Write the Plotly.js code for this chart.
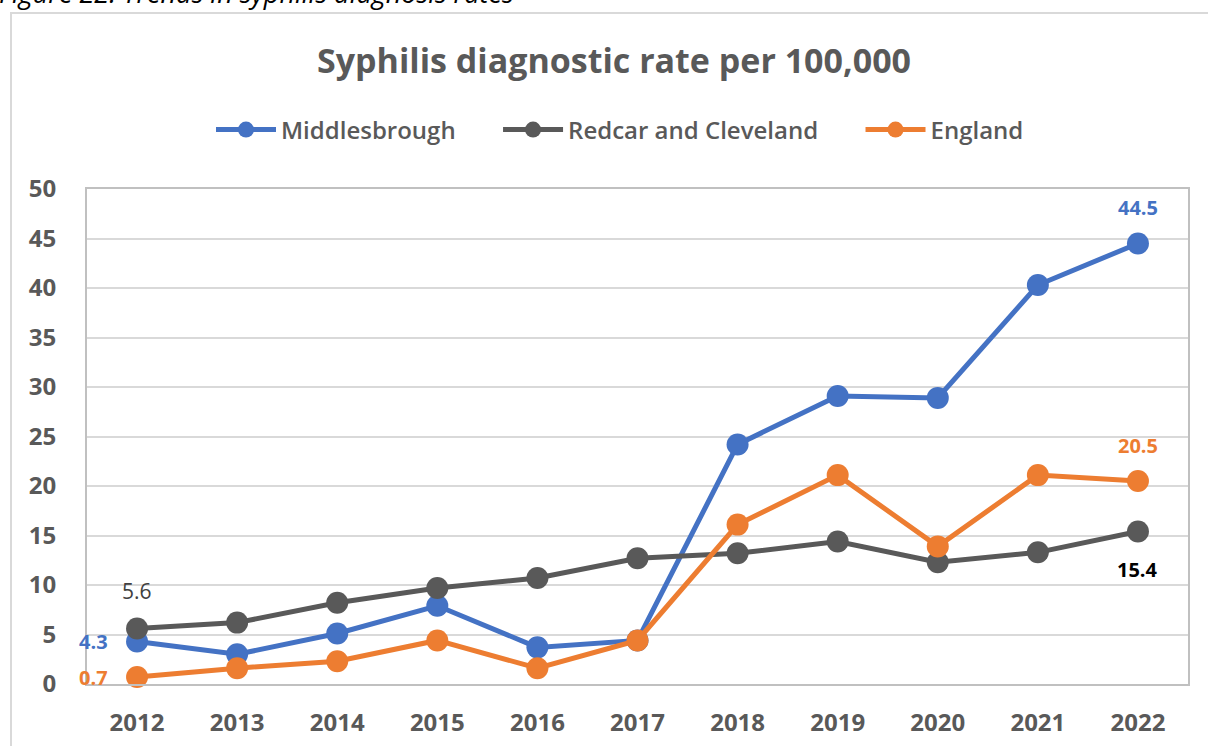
<!DOCTYPE html>
<html>
<head>
<meta charset="utf-8">
<script src="https://cdn.plot.ly/plotly-3.0.1.min.js"></script>
<style>html,body{margin:0;padding:0;background:#fff;}#chart{width:1208px;height:746px;}</style>
</head>
<body>
<div id="chart"></div>
<script>
const years = ['2012','2013','2014','2015','2016','2017','2018','2019','2020','2021','2022'];
const middlesbrough = [4.3, 3.0, 5.1, 7.9, 3.7, 4.4, 24.2, 29.1, 28.9, 40.3, 44.5];
const redcar = [5.6, 6.2, 8.2, 9.7, 10.7, 12.7, 13.2, 14.4, 12.3, 13.3, 15.4];
const england = [0.7, 1.6, 2.3, 4.4, 1.6, 4.4, 16.1, 21.1, 13.9, 21.1, 20.5];
const seriesNames = ['Middlesbrough', 'Redcar and Cleveland', 'England'];
const colors = ['#4472C4', '#595959', '#ED7D31'];

const n = years.length;
const font = 'Open Sans, sans-serif';
const series = [middlesbrough, redcar, england];
const gap = '\u00a0\u00a0\u00a0\u00a0\u00a0\u00a0';

const traces = series.map((vals, k) => ({
  x: years, y: vals, name: seriesNames[k] + (k < 2 ? gap : ''), type: 'scatter', mode: 'lines+markers',
  line: {color: colors[k], width: 5}, marker: {color: colors[k], size: 22}, cliponaxis: false
}));

const L = 87, R = 20, T = 189, B = 62;
const pw = 1208 - L - R, ph = 746 - T - B;
function px(x) { return (x - L) / pw; }
function py(y) { return (746 - B - y) / ph; }

// data labels: [series index, point index, xshift, yshift, bold, color]
const labelSpecs = [
  [0, 0, -44, 0, true, colors[0]],
  [0, n - 1, 0, 36, true, colors[0]],
  [1, 0, 0, 38, false, '#404040'],
  [1, n - 1, 0, -38, true, '#000000'],
  [2, 0, -44, 0, true, colors[2]],
  [2, n - 1, 0, 36, true, colors[2]]
];
const dataLabels = labelSpecs.map(([s, i, xs, ys, bold, col]) => ({
  x: i, y: series[s][i], xref: 'x', yref: 'y',
  text: bold ? '<b>' + series[s][i].toFixed(1) + '</b>' : series[s][i].toFixed(1),
  showarrow: false, xshift: xs, yshift: ys, xanchor: 'center', yanchor: 'middle',
  font: {size: bold ? 20 : 21, color: col, family: font}
}));

const layout = {
  width: 1208, height: 746,
  margin: {l: L, r: R, t: T, b: B, pad: 0, autoexpand: false},
  paper_bgcolor: '#ffffff', plot_bgcolor: '#ffffff',
  font: {family: font, color: '#595959'},
  title: {text: '<b>Syphilis diagnostic rate per 100,000</b>', font: {size: 34, color: '#595959', family: font},
          x: 614 / 1208, xref: 'container', xanchor: 'center', y: 1 - 61 / 746, yanchor: 'middle'},
  showlegend: true,
  legend: {orientation: 'h', x: px(620), xanchor: 'center', y: py(130), yanchor: 'middle',
           font: {size: 24, color: '#595959', family: font, weight: 600}, itemwidth: 60, tracegroupgap: 0,
           bgcolor: 'rgba(0,0,0,0)'},
  xaxis: {type: 'category', range: [-0.5, 10.5], showgrid: false, zeroline: false,
          showline: true, linecolor: '#C0C0C0', linewidth: 2, mirror: true, ticks: '',
          tickfont: {size: 24, color: '#595959', family: font, weight: 700}, ticklabelstandoff: 16},
  yaxis: {range: [0, 50], dtick: 5, showgrid: true, gridcolor: '#D9D9D9', gridwidth: 2, zeroline: false,
          showline: true, linecolor: '#C0C0C0', linewidth: 2, mirror: true, ticks: '',
          tickfont: {size: 24, color: '#595959', family: font, weight: 700}, ticklabelstandoff: 24},
  shapes: [
    {type: 'rect', xref: 'paper', yref: 'paper', x0: px(11), x1: px(1220), y0: py(760), y1: py(13),
     line: {color: '#D9D9D9', width: 2}, fillcolor: 'rgba(0,0,0,0)', layer: 'below'}
  ],
  annotations: dataLabels.concat([
    {text: '<i>Figure 22: Trends in syphilis diagnosis rates</i>', xref: 'paper', yref: 'paper',
     x: px(-3), y: py(-8), xanchor: 'left', yanchor: 'middle', showarrow: false,
     font: {size: 27, color: '#000000', family: font}}
  ])
};

Plotly.newPlot('chart', traces, layout, {displayModeBar: false, staticPlot: true});
</script>
</body>
</html>
